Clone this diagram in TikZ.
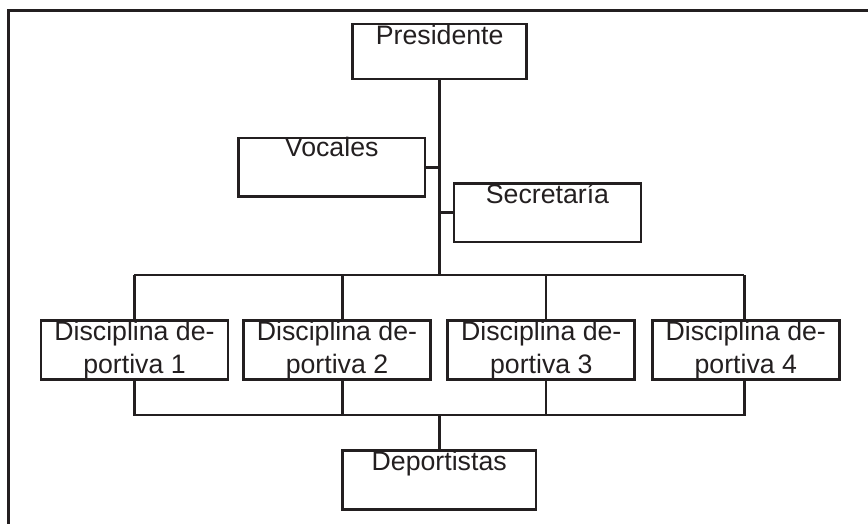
\documentclass[tikz,border=0pt]{standalone}
\usepackage{fontspec}
\setmainfont{Liberation Sans}
\definecolor{ink}{RGB}{35,31,32}
\begin{document}
\begin{tikzpicture}[x=1pt,y=-1pt,
  box/.style={draw=ink, line width=2.7pt, rectangle, inner sep=0pt, text=ink,
    font=\fontsize{26.7}{32.3}\selectfont, minimum width=187pt, minimum height=58.6pt},
  onebox/.style={box, text height=#1, text depth={58.6pt-#1}},
  conn/.style={draw=ink, line width=2.7pt}]
\useasboundingbox (0,0) rectangle (868,523);
\draw[ink, line width=3pt] (8.5,540) -- (8.5,10.5) -- (880,10.5);
% boxes
\node[box, minimum width=174pt, minimum height=55pt, text height=20.3pt, text depth=34.7pt] (pres) at (439.7,51.5) {Presidente};
\node[onebox=19pt, minimum width=186.7pt] (voc) at (331.7,167.2) {Vocales};
\node[onebox=19.7pt] (sec) at (547.5,212.8) {Secretaría};
\node[box, align=center] (d1) at (134.5,350) {Disciplina de-\\portiva 1};
\node[box, align=center] (d2) at (337,350) {Disciplina de-\\portiva 2};
\node[box, align=center] (d3) at (541.3,350) {Disciplina de-\\portiva 3};
\node[box, align=center] (d4) at (745.8,350) {Disciplina de-\\portiva 4};
\node[onebox=19.3pt, minimum width=193.7pt] (dep) at (439.2,480) {Deportistas};
% junctions
\coordinate (top) at (439.3,275);
\coordinate (t1) at (134.3,275);
\coordinate (t2) at (342.3,275);
\coordinate (t3) at (546,275);
\coordinate (t4) at (744.3,275);
\coordinate (bot) at (439.3,415);
\coordinate (b1) at (134.3,415);
\coordinate (b2) at (342.3,415);
\coordinate (b3) at (546,415);
\coordinate (b4) at (744.3,415);
% connectors
\draw[conn] (pres.south -| top) -- (top);
\draw[conn] (voc.east) -- (voc.east -| top);
\draw[conn] (sec.west) -- (sec.west -| top);
\draw[conn] (t1) -- (t4);
\draw[conn] (t1) -- (t1 |- d1.north);
\draw[conn] (t2) -- (t2 |- d2.north);
\draw[conn] (t3) -- (t3 |- d3.north);
\draw[conn] (t4) -- (t4 |- d4.north);
\draw[conn] (b1 |- d1.south) -- (b1) -- (b4) -- (b4 |- d4.south);
\draw[conn] (b2 |- d2.south) -- (b2);
\draw[conn] (b3 |- d3.south) -- (b3);
\draw[conn] (bot) -- (bot |- dep.north);
\end{tikzpicture}
\end{document}
